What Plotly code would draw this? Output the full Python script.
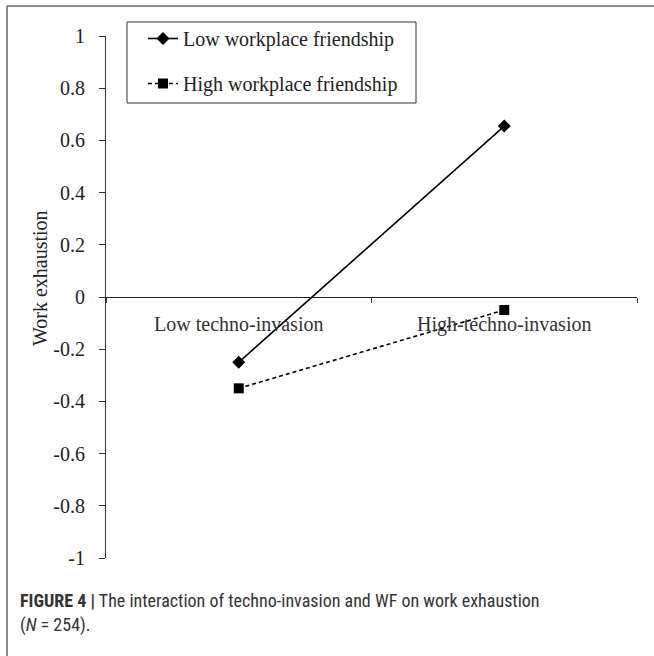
import plotly.graph_objects as go

categories = ["Low techno-invasion", "High-techno-invasion"]
low_wf = [-0.25, 0.655]
high_wf = [-0.35, -0.05]
series_names = ["Low workplace friendship", "High workplace friendship"]
y_ticks = [1, 0.8, 0.6, 0.4, 0.2, 0, -0.2, -0.4, -0.6, -0.8, -1]
y_tick_labels = ["1", "0.8", "0.6", "0.4", "0.2", "0", "-0.2", "-0.4", "-0.6", "-0.8", "-1"]

W, H = 654, 656
ML, MR, MT, MB = 106, 17, 36, 98
PW, PH = W - ML - MR, H - MT - MB

def px(x):
    return (x - ML) / PW

def py(y):
    return (H - MB - y) / PH

serif = "Liberation Serif, Times New Roman, serif"

fig = go.Figure()
fig.add_trace(go.Scatter(
    x=categories, y=low_wf, name=series_names[0], mode="lines+markers",
    line=dict(color="black", width=1.6),
    marker=dict(symbol="diamond", size=10, color="black"),
    legend="legend",
))
fig.add_trace(go.Scatter(
    x=categories, y=high_wf, name=series_names[1], mode="lines+markers",
    line=dict(color="black", width=1.6, dash="4px,3px"),
    marker=dict(symbol="square", size=10, color="black"),
    legend="legend2",
))

fig.update_layout(
    width=W, height=H,
    margin=dict(l=ML, r=MR, t=MT, b=MB),
    paper_bgcolor="white", plot_bgcolor="white",
    font=dict(family=serif, size=20, color="#222"),
    xaxis=dict(
        type="category", range=[-0.5, 1.5], anchor="free", position=0.5,
        tickson="boundaries", ticks="outside", ticklen=5, tickcolor="#333",
        showline=True, linecolor="#222", linewidth=1, showgrid=False,
        zeroline=False, tickfont=dict(family=serif, size=20, color="#333"),
        ticklabelstandoff=9,
    ),
    yaxis=dict(
        range=[-1, 1], tickvals=y_ticks, ticktext=y_tick_labels,
        ticks="outside", ticklen=6, tickcolor="#333",
        showline=True, linecolor="#333", linewidth=1, showgrid=False,
        zeroline=False, tickfont=dict(family=serif, size=20, color="#222"),
        ticklabelstandoff=10,
    ),
    legend=dict(
        x=px(143), y=py(19), xanchor="left", yanchor="top",
        bgcolor="rgba(0,0,0,0)", borderwidth=0,
        font=dict(family=serif, size=20, color="#222"),
    ),
    legend2=dict(
        x=px(143), y=py(64), xanchor="left", yanchor="top",
        bgcolor="rgba(0,0,0,0)", borderwidth=0,
        font=dict(family=serif, size=20, color="#222"),
    ),
    showlegend=True,
)

# legend box
fig.add_shape(type="rect", xref="paper", yref="paper",
              x0=px(127), x1=px(416), y0=py(103), y1=py(22),
              line=dict(color="#333", width=1), fillcolor="rgba(0,0,0,0)")
# outer frame (top and left edges)
fig.add_shape(type="line", xref="paper", yref="paper",
              x0=px(7), x1=px(654), y0=py(6), y1=py(6),
              line=dict(color="#666", width=1.5))
fig.add_shape(type="line", xref="paper", yref="paper",
              x0=px(7), x1=px(7), y0=py(6), y1=py(656),
              line=dict(color="#666", width=1.5))

# y axis title
fig.add_annotation(
    text="Work exhaustion", xref="paper", yref="paper",
    x=px(40), y=py(278), xanchor="center", yanchor="middle",
    textangle=-90, showarrow=False,
    font=dict(family=serif, size=20, color="#222"),
)

# caption
cap_font = "Liberation Sans Narrow, Arial Narrow, Roboto Condensed, Roboto, Liberation Sans, Arial, sans-serif"
fig.add_annotation(
    text="<b>FIGURE 4 |</b> The interaction of techno-invasion and WF on work exhaustion",
    xref="paper", yref="paper", x=px(18), y=py(600),
    xanchor="left", yanchor="middle", showarrow=False,
    font=dict(family=cap_font, size=18, color="#333"),
)
fig.add_annotation(
    text="(<i>N</i> = 254).",
    xref="paper", yref="paper", x=px(18), y=py(625),
    xanchor="left", yanchor="middle", showarrow=False,
    font=dict(family=cap_font, size=18, color="#333"),
)

fig.write_html(
    "out.html",
    config={"displayModeBar": False},
    post_script="document.body.style.margin='0';document.body.style.overflow='hidden';",
)
